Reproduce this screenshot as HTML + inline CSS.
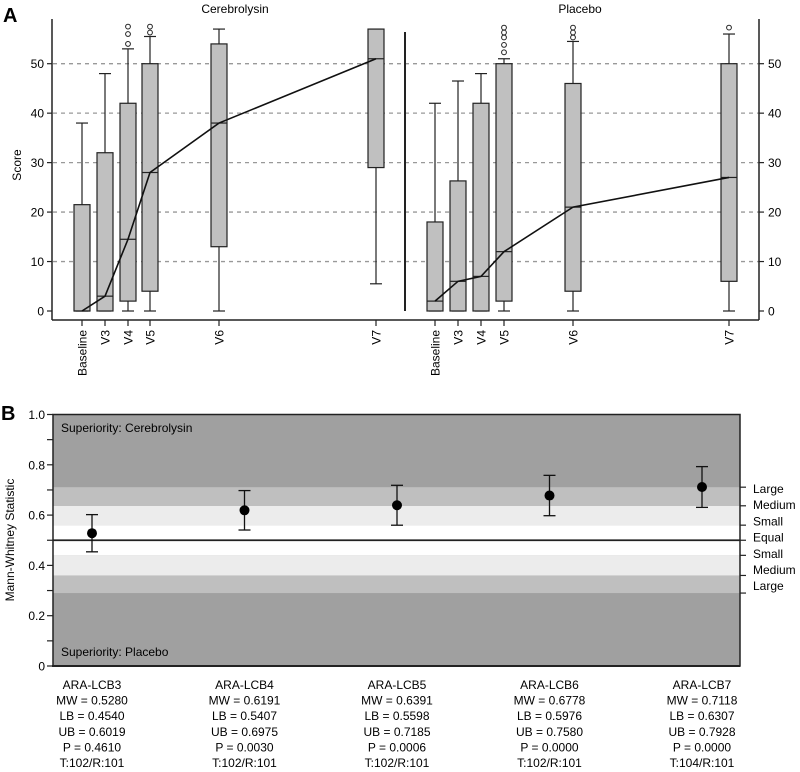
<!DOCTYPE html>
<html><head><meta charset="utf-8">
<style>
body{margin:0;background:#fff;}
svg{display:block;font-family:"Liberation Sans",sans-serif;}
</style></head>
<body>
<svg id="chart" width="800" height="772" viewBox="0 0 800 772" xmlns="http://www.w3.org/2000/svg"></svg>
<script>
// ---------- Panel A data ----------
const visits = ["Baseline","V3","V4","V5","V6","V7"];
const cereLow = [0,0,0,0,0,5.5];
const cereQ1 = [0,0,2,4,13,29];
const cereMed = [0,3,14.5,28,38,51];
const cereQ3 = [21.5,32,42,50,54,57];
const cereHigh = [38,48,53,55.5,57,57];
const cereOut = [[],[],[54,56,57.5],[56.3,57.5],[],[]];
const placLow = [0,0,0,0,0,0];
const placQ1 = [0,0,0,2,4,6];
const placMed = [2,6,7,12,21,27];
const placQ3 = [18,26.3,42,50,46,50];
const placHigh = [42,46.5,48,51,54.5,56];
const placOut = [[],[],[],[52.3,53.8,55.3,56.3,57.3],[55.3,56.3,57.3],[57.3]];
const scoreTicks = [0,10,20,30,40,50];
// ---------- Panel B data ----------
const comps = ["ARA-LCB3","ARA-LCB4","ARA-LCB5","ARA-LCB6","ARA-LCB7"];
const mw = [0.5280,0.6191,0.6391,0.6778,0.7118];
const lb = [0.4540,0.5407,0.5598,0.5976,0.6307];
const ub = [0.6019,0.6975,0.7185,0.7580,0.7928];
const pv = ["0.4610","0.0030","0.0006","0.0000","0.0000"];
const tr = ["T:102/R:101","T:102/R:101","T:102/R:101","T:102/R:101","T:104/R:101"];
const bandEdges = [0.29,0.36,0.44,0.5,0.56,0.637,0.711];
const bandLabels = ["Large","Medium","Small","Equal","Small","Medium","Large"];
const mwTicks = [0,0.1,0.2,0.3,0.4,0.5,0.6,0.7,0.8,0.9,1.0];

const svg = document.getElementById('chart');
const NS = "http://www.w3.org/2000/svg";
function mk(tag, attrs, parent, text){
  const e = document.createElementNS(NS, tag);
  for (const k in attrs) e.setAttribute(k, attrs[k]);
  if (text !== undefined) e.textContent = text;
  (parent||svg).appendChild(e);
  return e;
}
// axis functions
const yA = v => 311 - v*4.946;
const leftX = [82,105,128,150,219,376];
const rightX = [435,458,481,504,573,729];
const xPos = (i, right) => right ? rightX[i] : leftX[i];
const yB = v => 666 - v*251.5;
const xB = i => 92 + i*152.5;

// ---- Panel A ----
let t;
t = mk('text',{x:3,y:22,'font-size':20,'font-weight':'bold'},svg,'A');
 
t = mk('text',{x:235,y:13,'font-size':12,'text-anchor':'middle'},svg,'Cerebrolysin');
 
t = mk('text',{x:580,y:13,'font-size':12,'text-anchor':'middle'},svg,'Placebo');
 
t = mk('text',{x:21,y:165,'font-size':12,'text-anchor':'middle',transform:'rotate(-90 21 165)'},svg,'Score');
 

const gridA = mk('g',{});  
scoreTicks.forEach(v=>{
  if (v>0) mk('line',{x1:53,x2:759,y1:yA(v),y2:yA(v),stroke:'#999','stroke-width':1.3,'stroke-dasharray':'4,4'},gridA);
  let l = mk('line',{x1:47,x2:52,y1:yA(v),y2:yA(v),stroke:'#222','stroke-width':1.2});
  let tx = mk('text',{x:44,y:yA(v)+4.5,'font-size':12,'text-anchor':'end'},svg,String(v));
   
  mk('line',{x1:759,x2:764,y1:yA(v),y2:yA(v),stroke:'#222','stroke-width':1.2});
  let tx2 = mk('text',{x:768,y:yA(v)+4.5,'font-size':12},svg,String(v));
   
});
mk('line',{x1:52,x2:52,y1:19,y2:320,stroke:'#222','stroke-width':1.5});
mk('line',{x1:759,x2:759,y1:19,y2:320,stroke:'#222','stroke-width':1.5});
mk('line',{x1:52,x2:759,y1:320,y2:320,stroke:'#222','stroke-width':1.5});
let div = mk('line',{x1:405,x2:405,y1:32,y2:311,stroke:'#222','stroke-width':2});
 

function drawGroup(right, low,q1,med,q3,high,outs,name){
  const g = mk('g',{});
   
  const w = 16;
  visits.forEach((v,i)=>{
    const x = xPos(i,right);
    const bg = mk('g',{},g);
     
    mk('line',{x1:x,x2:x,y1:yA(low[i]),y2:yA(high[i]),stroke:'#222','stroke-width':1.2},bg);
    mk('line',{x1:x-6,x2:x+6,y1:yA(low[i]),y2:yA(low[i]),stroke:'#222','stroke-width':1.2},bg);
    mk('line',{x1:x-6,x2:x+6,y1:yA(high[i]),y2:yA(high[i]),stroke:'#222','stroke-width':1.2},bg);
    mk('rect',{x:x-w/2,y:yA(q3[i]),width:w,height:Math.max(0.5,yA(q1[i])-yA(q3[i])),fill:'#c0c0c0',stroke:'#222','stroke-width':1.2},bg);
    mk('line',{x1:x-w/2,x2:x+w/2,y1:yA(med[i]),y2:yA(med[i]),stroke:'#222','stroke-width':1.2},bg);
    outs[i].forEach(o=>{
      const c = mk('circle',{cx:x,cy:yA(o),r:2.4,fill:'none',stroke:'#222','stroke-width':1},bg);
       
    });
    // x tick & label
    mk('line',{x1:x,x2:x,y1:320,y2:326,stroke:'#222','stroke-width':1.2});
    const lab = mk('text',{x:x+4.5,y:330,'font-size':12,'text-anchor':'end',transform:`rotate(-90 ${x+4.5} 330)`},svg,v);
     
  });
  const pts = visits.map((v,i)=>xPos(i,right)+','+yA(med[i])).join(' ');
  const pl = mk('polyline',{points:pts,fill:'none',stroke:'#111','stroke-width':1.6},g);
   
}
drawGroup(false,cereLow,cereQ1,cereMed,cereQ3,cereHigh,cereOut,'cerebrolysin');
drawGroup(true,placLow,placQ1,placMed,placQ3,placHigh,placOut,'placebo');

// ---- Panel B ----
t = mk('text',{x:1,y:420,'font-size':20,'font-weight':'bold'},svg,'B');
 
const X0=53, X1=740;
const bands = mk('g',{});  
mk('rect',{x:X0,y:yB(1),width:X1-X0,height:yB(0)-yB(1),fill:'#a0a0a0'},bands);
const bandFill = ['#bfbfbf','#ececec','#ffffff','#ffffff','#ececec','#bfbfbf'];
for (let k=0;k<6;k++){
  mk('rect',{x:X0,y:yB(bandEdges[k+1]),width:X1-X0,height:yB(bandEdges[k])-yB(bandEdges[k+1]),fill:bandFill[k]},bands);
}
mk('rect',{x:X0,y:yB(1),width:X1-X0,height:yB(0)-yB(1),fill:'none',stroke:'#222','stroke-width':1.5});
mk('line',{x1:X0,x2:X1,y1:yB(0.5),y2:yB(0.5),stroke:'#222','stroke-width':1.8});
mk('line',{x1:X0-1,x2:X1,y1:yB(0),y2:yB(0),stroke:'#222','stroke-width':2});
mwTicks.forEach((v,i)=>{
  mk('line',{x1:47,x2:53,y1:yB(v),y2:yB(v),stroke:'#222','stroke-width':1.2});
  if (i%2===0){
    const tx = mk('text',{x:45,y:yB(v)+4.5,'font-size':12,'text-anchor':'end'},svg,v===0?'0':v.toFixed(1));
     
  }
});
t = mk('text',{x:14,y:540,'font-size':12,'text-anchor':'middle',transform:'rotate(-90 14 540)'},svg,'Mann-Whitney Statistic');
 
t = mk('text',{x:61,y:432,'font-size':12},svg,'Superiority: Cerebrolysin');
 
t = mk('text',{x:61,y:656,'font-size':12},svg,'Superiority: Placebo');
 
const bandTickVals = [0.711,0.637,0.56,0.5,0.44,0.36,0.29];
bandLabels.forEach((b,i)=>{
  mk('line',{x1:740,x2:746,y1:yB(bandTickVals[i]),y2:yB(bandTickVals[i]),stroke:'#222','stroke-width':1.2});
  const tx = mk('text',{x:753,y:493+i*16.2,'font-size':12},svg,b);
   
});
comps.forEach((c,i)=>{
  const x = xB(i);
  const g = mk('g',{});
   
  mk('line',{x1:x,x2:x,y1:yB(ub[i]),y2:yB(lb[i]),stroke:'#111','stroke-width':1.3},g);
  mk('line',{x1:x-6,x2:x+6,y1:yB(ub[i]),y2:yB(ub[i]),stroke:'#111','stroke-width':1.3},g);
  mk('line',{x1:x-6,x2:x+6,y1:yB(lb[i]),y2:yB(lb[i]),stroke:'#111','stroke-width':1.3},g);
  mk('circle',{cx:x,cy:yB(mw[i]),r:5,fill:'#000'},g);
  const lines = [c,'MW = '+mw[i].toFixed(4),'LB = '+lb[i].toFixed(4),'UB = '+ub[i].toFixed(4),'P = '+pv[i],tr[i]];
  const tg = mk('g',{});
   
  lines.forEach((s,k)=>{
    mk('text',{x:x,y:689+k*15.6,'font-size':12,'text-anchor':'middle'},tg,s);
  });
});
</script>
</body></html>
